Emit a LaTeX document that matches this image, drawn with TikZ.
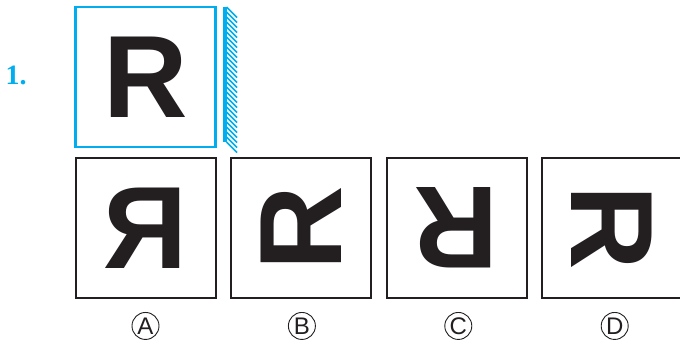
\documentclass[tikz,border=0pt]{standalone}
\usepackage{fontspec}
\setmainfont{Liberation Serif}
\setsansfont{Liberation Sans}
\usepackage{tikz}
\usetikzlibrary{positioning}
\definecolor{mirrorblue}{RGB}{0,174,239}
\definecolor{inkblack}{RGB}{35,31,32}

\begin{document}
\begin{tikzpicture}[x=1pt,y=1pt,
  letterbox/.style={draw=inkblack,text=inkblack,line width=2pt,minimum size=140pt,inner sep=0pt,
    font=\fontsize{117}{117}\selectfont\sffamily\bfseries},
  choice/.style={draw=inkblack,text=inkblack,circle,line width=0.9pt,minimum size=27pt,inner sep=0pt,
    font=\fontsize{24}{24}\selectfont\sffamily}]
  \useasboundingbox (0,0) rectangle (680,346);
  \node[text=mirrorblue,font=\fontsize{28}{28}\selectfont\bfseries] (num) at (16,271) {1.};
  \node[letterbox,draw=mirrorblue,line width=2.5pt] (given) at (145.5,269) {R};
  % mirror with hatching
  \coordinate (mtop) at (224.5,339);
  \coordinate (mbot) at (224.5,204);
  \draw[mirrorblue,line width=4pt] (mtop) -- (mbot);
  \foreach \y in {0,5,...,135}
    \draw[mirrorblue,line width=1.5pt] ([yshift=-\y pt]mtop) ++(2,0) -- ++(10.5,-10.5);
  % options
  \node[letterbox,xscale=-1] (optA) at (145.5,118) {R};
  \node[letterbox,rotate=90] (optB) at (301,118) {R};
  \node[letterbox,rotate=180] (optC) at (456.5,118) {R};
  \node[letterbox,rotate=-90] (optD) at (612,118) {R};
  \node[choice,below=13pt of optA] (labA) {A};
  \node[choice,right=128.5pt of labA] (labB) {B};
  \node[choice,right=128.5pt of labB] (labC) {C};
  \node[choice,right=128.5pt of labC] (labD) {D};
\end{tikzpicture}
\end{document}
